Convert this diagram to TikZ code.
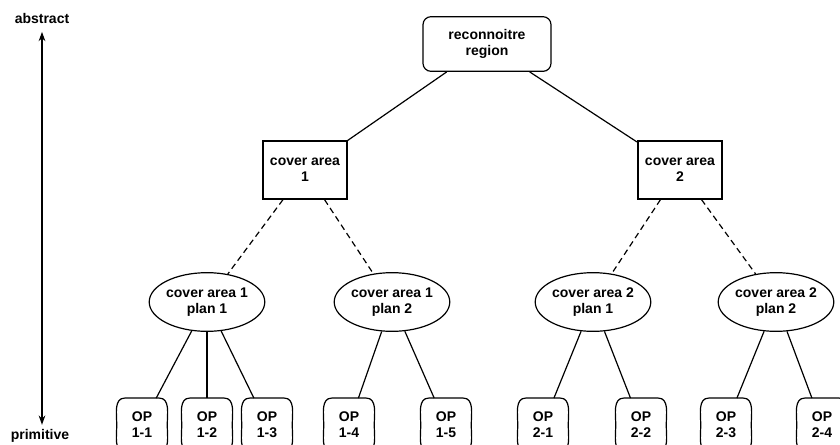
\documentclass[tikz,border=0pt]{standalone}
\usepackage{fontspec}
\setmainfont{Liberation Sans}
\usetikzlibrary{arrows.meta, shapes.geometric}

\begin{document}
\begin{tikzpicture}[x=0.75pt, y=-0.75pt,
    every node/.style={font=\fontsize{10.5}{12}\selectfont\bfseries, align=center},
    rootbox/.style={draw, rounded corners=6pt, line width=0.9pt, minimum width=96pt, minimum height=41pt},
    areabox/.style={draw, line width=1.5pt, minimum width=63pt, minimum height=43pt},
    planbox/.style={draw, ellipse, line width=0.9pt, minimum width=86pt, minimum height=44pt, inner sep=0pt},
    opbox/.style={minimum width=37.5pt, minimum height=40pt, inner sep=0pt},
    link/.style={line width=0.9pt},
    planlink/.style={line width=0.9pt, dash pattern=on 4.5pt off 3pt}]

    % Frame
    \useasboundingbox (0,0) rectangle (840,444);
    \clip (0,0) rectangle (840,444);

    % Scale of abstraction
    \node (abs) at (42,18) {abstract};
    \node (prim) at (40,436) {primitive};
    \draw[{Stealth[length=7pt,width=5pt]}-{Stealth[length=7pt,width=5pt]}, line width=0.9pt, shorten <=3pt] (abs.south) -- (abs.south |- prim.north);

    % Task and areas
    \node[rootbox] (root) at (487,44) {reconnoitre\\region};
    \node[areabox] (c1) at (305,170) {cover area\\1};
    \node[areabox] (c2) at (680,170) {cover area\\2};

    % Plans
    \node[planbox] (e1) at (207,302) {cover area 1\\plan 1};
    \node[planbox] (e2) at (392,302) {cover area 1\\plan 2};
    \node[planbox] (e3) at (593,302) {cover area 2\\plan 1};
    \node[planbox] (e4) at (776,302) {cover area 2\\plan 2};

    % Primitive operations
    \node[opbox] (o11) at (142,425) {OP\\1-1};
    \node[opbox] (o12) at (207,425) {OP\\1-2};
    \node[opbox] (o13) at (267,425) {OP\\1-3};
    \node[opbox] (o14) at (349,425) {OP\\1-4};
    \node[opbox] (o15) at (446,425) {OP\\1-5};
    \node[opbox] (o21) at (543,425) {OP\\2-1};
    \node[opbox] (o22) at (641,425) {OP\\2-2};
    \node[opbox] (o23) at (726,425) {OP\\2-3};
    \node[opbox] (o24) at (822,425) {OP\\2-4};
    \foreach \n in {o11,o12,o13,o14,o15,o21,o22,o23,o24}
        \draw[link] ([xshift=6pt]\n.north west) -- ([xshift=-6pt]\n.north east)
            to[out=0,in=90] (\n.east) to[out=-90,in=0] ([xshift=-6pt]\n.south east)
            -- ([xshift=6pt]\n.south west) to[out=180,in=-90] (\n.west)
            to[out=90,in=180] cycle;

    % Links
    \draw[link] (root) -- (c1);
    \draw[link] (root) -- (c2);
    \draw[planlink] (c1) -- (e1);
    \draw[planlink] (c1) -- (e2);
    \draw[planlink] (c2) -- (e3);
    \draw[planlink] (c2) -- (e4);
    \foreach \a/\b in {e1/o11, e1/o12, e1/o13, e2/o14, e2/o15, e3/o21, e3/o22, e4/o23, e4/o24}
        \draw[link] (\a) -- (\b);
\end{tikzpicture}
\end{document}
